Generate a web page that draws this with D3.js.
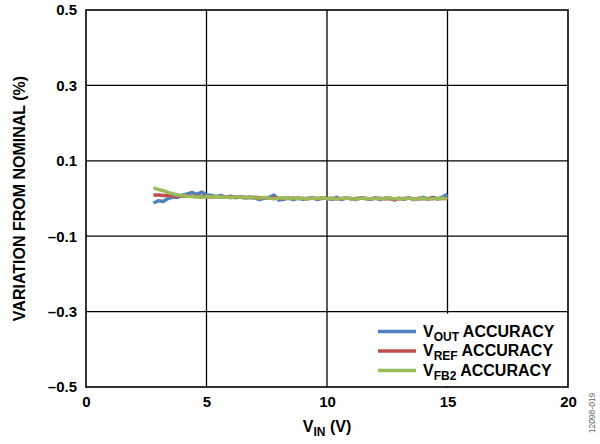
<!DOCTYPE html>
<html>
<head>
<meta charset="utf-8">
<script src="https://cdn.jsdelivr.net/npm/d3@7"></script>
<style>
  body { margin: 0; background: #fff; }
  text { font-family: "Liberation Sans", Arial, sans-serif; font-weight: bold; fill: #000; }
</style>
</head>
<body>
<div id="chart"></div>
<script>
// data
var vin = [2.8, 3.0, 3.2, 3.4, 3.6, 3.8, 4.0, 4.2, 4.4, 4.6, 4.8, 5.0, 5.2, 5.4, 5.6, 5.8,
  6.0, 6.2, 6.4, 6.6, 6.8, 7.0, 7.2, 7.4, 7.6, 7.8, 8.0, 8.2, 8.4, 8.6, 8.8, 9.0, 9.2,
  9.4, 9.6, 9.8, 10.0, 10.2, 10.4, 10.6, 10.8, 11.0, 11.2, 11.4, 11.6, 11.8, 12.0, 12.2,
  12.4, 12.6, 12.8, 13.0, 13.2, 13.4, 13.6, 13.8, 14.0, 14.2, 14.4, 14.6, 14.8, 15.0];

var voutAcc = [-0.012, -0.006, -0.008, 0.000, 0.004, 0.003, 0.009, 0.012, 0.016, 0.011, 0.017, 0.009,
  0.008, 0.005, 0.008, 0.003, 0.006, 0.002, 0.005, 0.001, 0.004, 0.001, -0.003, 0.001, 0.003,
  0.009, -0.004, -0.002, 0.001, -0.003, 0.001, -0.002, 0.001, 0.002, -0.003, 0.002, 0.000,
  -0.002, 0.003, -0.003, 0.001, 0.000, -0.003, 0.002, 0.000, -0.002, 0.002, -0.003, 0.001,
  0.001, -0.004, 0.001, -0.002, 0.002, -0.003, 0.000, 0.003, -0.002, 0.003, -0.001, 0.004, 0.011];

var vrefAcc = [0.009, 0.009, 0.008, 0.008, 0.007, 0.007, 0.006, 0.006, 0.006, 0.005, 0.005, 0.005,
  0.004, 0.005, 0.004, 0.004, 0.003, 0.004, 0.003, 0.003, 0.002, 0.003, 0.002, 0.002, 0.001,
  0.002, 0.001, -0.001, 0.001, 0.000, 0.001, 0.000, -0.001, 0.001, 0.000, 0.000, 0.001,
  0.000, -0.001, 0.000, 0.001, -0.001, 0.000, 0.001, 0.000, -0.001, 0.000, 0.001, -0.001,
  0.000, -0.003, -0.001, 0.000, 0.001, -0.001, 0.000, -0.001, 0.000, 0.001, -0.001, 0.000, 0.000];

var vfb2Acc = [0.028, 0.024, 0.021, 0.016, 0.013, 0.009, 0.008, 0.006, 0.005, 0.004, 0.003, 0.005,
  0.004, 0.006, 0.003, 0.004, 0.002, 0.004, 0.004, 0.002, 0.003, 0.002, 0.001, 0.003, 0.001,
  -0.001, 0.001, 0.002, 0.000, 0.002, -0.001, 0.001, -0.001, 0.001, 0.000, 0.002, -0.001,
  0.001, -0.002, 0.000, 0.001, 0.000, -0.002, 0.001, 0.000, -0.001, 0.001, -0.001, 0.000,
  0.002, -0.001, 0.000, -0.001, 0.001, -0.002, 0.000, 0.001, -0.001, -0.001, 0.000, 0.001, -0.001];

var xTicks = [0, 5, 10, 15, 20];
var yTicks = [-0.5, -0.3, -0.1, 0.1, 0.3, 0.5];

var series = [
  { name: "OUT", values: voutAcc, color: "#4f81bd" },
  { name: "REF", values: vrefAcc, color: "#c0504d" },
  { name: "FB2", values: vfb2Acc, color: "#9bbb59" }
];

var svgWidth = 600;
var svgHeight = 444;
var margin = { top: 10, right: 32, bottom: 57, left: 86 };
var width = svgWidth - margin.left - margin.right;
var height = svgHeight - margin.top - margin.bottom;

var svg = d3.select("#chart")
  .append("svg")
  .attr("width", svgWidth)
  .attr("height", svgHeight);

var chartGroup = svg.append("g")
  .attr("transform", `translate(${margin.left}, ${margin.top})`);

var xScale = d3.scaleLinear().domain([0, 20]).range([0, width]);
var yScale = d3.scaleLinear().domain([-0.5, 0.5]).range([height, 0]);

//grid lines
chartGroup.append("g")
  .selectAll("line.vgrid")
  .data(xTicks.slice(1, -1))
  .enter()
  .append("line")
  .attr("x1", d => xScale(d)).attr("x2", d => xScale(d))
  .attr("y1", 0).attr("y2", height)
  .attr("stroke", "#000").attr("stroke-width", 1.3);

chartGroup.append("g")
  .selectAll("line.hgrid")
  .data(yTicks.slice(1, -1))
  .enter()
  .append("line")
  .attr("x1", 0).attr("x2", width)
  .attr("y1", d => yScale(d)).attr("y2", d => yScale(d))
  .attr("stroke", "#000").attr("stroke-width", 1.3);

//axes, labels only
var xAxis = d3.axisBottom(xScale).tickValues(xTicks).tickSize(0).tickPadding(9);
var yAxis = d3.axisLeft(yScale).tickValues(yTicks).tickSize(0).tickPadding(9)
  .tickFormat(d => d < 0 ? "\u2013" + d3.format(".1f")(-d) : d3.format(".1f")(d));

chartGroup.append("g")
  .attr("transform", `translate(0, ${height})`)
  .call(xAxis)
  .call(g => g.select(".domain").remove())
  .selectAll("text").style("font-size", "15px").style("font-family", "Liberation Sans, Arial, sans-serif")
  .style("font-weight", "bold");

chartGroup.append("g")
  .call(yAxis)
  .call(g => g.select(".domain").remove())
  .selectAll("text").style("font-size", "15px").style("font-family", "Liberation Sans, Arial, sans-serif")
  .style("font-weight", "bold");

//data lines
var line = d3.line()
  .x((d, i) => xScale(vin[i]))
  .y(d => yScale(d));

series.forEach(function(s) {
  chartGroup.append("path")
    .datum(s.values)
    .attr("fill", "none")
    .attr("stroke", s.color)
    .attr("stroke-width", 3.5)
    .attr("stroke-linejoin", "round")
    .attr("d", line);
});

//legend with white box over the grid
var legend = chartGroup.append("g")
  .attr("transform", `translate(${width - 196}, ${yScale(-0.3) + 2})`);
legend.append("rect")
  .attr("width", 195).attr("height", height - yScale(-0.3) - 3)
  .attr("fill", "#fff");

series.forEach(function(s, i) {
  var y = 18 + i * 19.5;
  legend.append("line")
    .attr("x1", 6).attr("x2", 44)
    .attr("y1", y).attr("y2", y)
    .attr("stroke", s.color).attr("stroke-width", 3.5);
  var t = legend.append("text")
    .attr("x", 51).attr("y", y + 5)
    .style("font-size", "16px");
  t.append("tspan").text("V");
  t.append("tspan").attr("dy", 4).style("font-size", "12px").text(s.name);
  t.append("tspan").attr("dy", -4).text(" ACCURACY");
});

//plot frame
chartGroup.append("rect")
  .attr("width", width).attr("height", height)
  .attr("fill", "none").attr("stroke", "#000").attr("stroke-width", 1.6);

//axis titles
var xTitle = svg.append("text")
  .attr("x", margin.left + width / 2)
  .attr("y", 432)
  .attr("text-anchor", "middle")
  .style("font-size", "16px");
xTitle.append("tspan").text("V");
xTitle.append("tspan").attr("dy", 4).style("font-size", "12px").text("IN");
xTitle.append("tspan").attr("dy", -4).text(" (V)");

svg.append("text")
  .attr("transform", `translate(25, ${margin.top + height / 2}) rotate(-90)`)
  .attr("text-anchor", "middle")
  .style("font-size", "16px")
  .text("VARIATION FROM NOMINAL (%)");

//figure number
svg.append("text")
  .attr("transform", "translate(595, 413) rotate(-90)")
  .attr("text-anchor", "middle")
  .style("font-size", "8.5px")
  .style("font-weight", "normal")
  .style("fill", "#666")
  .text("12098-019");
</script>
</body>
</html>
